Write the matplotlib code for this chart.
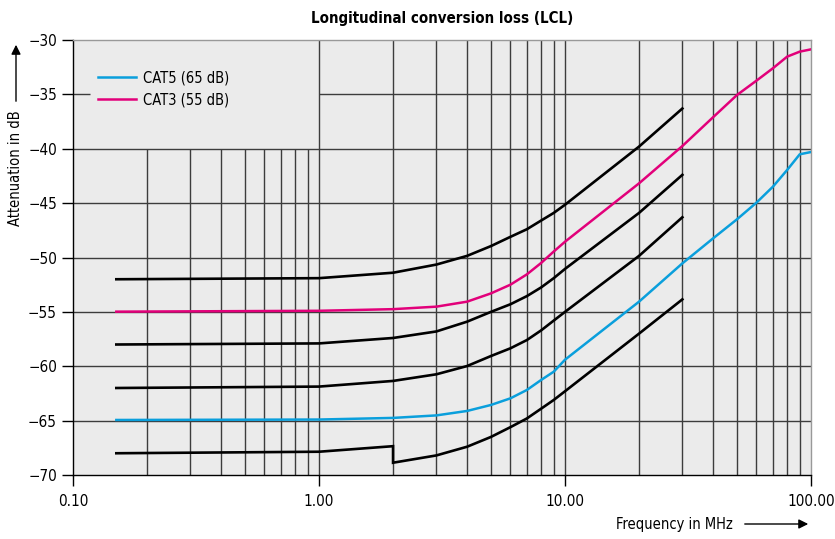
import matplotlib
matplotlib.use('Agg')
import matplotlib.pyplot as plt
from matplotlib.ticker import FixedLocator, NullLocator

plt.rcParams['font.family'] = ['DejaVu Sans']
plt.rcParams['font.stretch'] = 'condensed'

# --- data ---
freq_low = [0.15, 1, 2, 3, 4, 5, 6, 7, 8, 9, 10, 20, 30]
black_1 = [-52.0, -51.9, -51.4, -50.65, -49.85, -48.95, -48.1, -47.4, -46.6, -45.9, -45.15, -39.8, -36.3]
black_2 = [-58.0, -57.9, -57.4, -56.8, -55.9, -55.0, -54.3, -53.55, -52.75, -51.9, -51.05, -45.9, -42.4]
black_3 = [-62.0, -61.87, -61.35, -60.74, -59.98, -59.06, -58.35, -57.59, -56.7, -55.8, -55.0, -49.85, -46.3]

freq_step = [0.15, 1, 2, 2, 3, 4, 5, 6, 7, 8, 9, 10, 20, 30]
black_4 = [-68.0, -67.86, -67.35, -68.87, -68.2, -67.4, -66.5, -65.6, -64.8, -63.9, -63.1, -62.3, -57.0, -53.85]

freq_full = [0.15, 1, 2, 3, 4, 5, 6, 7, 8, 9, 10, 20, 30, 40, 50, 60, 70, 80, 90, 100]
cat3 = [-54.98, -54.9, -54.75, -54.52, -54.06, -53.3, -52.5, -51.55, -50.5, -49.45, -48.55,
        -43.18, -39.75, -37.1, -35.06, -33.74, -32.6, -31.53, -31.07, -30.86]
cat5 = [-64.94, -64.9, -64.75, -64.52, -64.11, -63.56, -62.95, -62.18, -61.26, -60.5, -59.4,
        -54.06, -50.54, -48.24, -46.49, -44.96, -43.49, -41.95, -40.51, -40.3]

x_ticks = [0.1, 1, 10, 100]
x_labels = ['0.10', '1.00', '10.00', '100.00']
y_ticks = [-70, -65, -60, -55, -50, -45, -40, -35, -30]

blue = '#0a9fdc'
magenta = '#e2007a'
grid_c = '#3c3c3c'

fig = plt.figure(figsize=(8.35, 5.39), dpi=100)
ax = fig.add_axes([73 / 835, 1 - 475 / 539, 738 / 835, 435 / 539])
ax.set_facecolor('#ebebeb')
ax.set_xscale('log')
ax.set_xlim(0.1, 100)
ax.set_ylim(-70, -30)

# grid: minor lines below 1 MHz stop at -40 (legend area), the rest go full height
for dec in [0.1, 1, 10]:
    for m in range(1, 10):
        f = dec * m
        if f <= 0.1:
            continue
        if f < 1:
            ax.vlines(f, -70, -40, color=grid_c, lw=1, zorder=1)
        else:
            ax.vlines(f, -70, -30, color=grid_c, lw=1, zorder=1)
for y in [-65, -60, -55, -50, -45, -40]:
    ax.hlines(y, 0.1, 100, color=grid_c, lw=1, zorder=1)
ax.hlines(-35, 1, 100, color=grid_c, lw=1, zorder=1)
ax.hlines(-35, 0.1, 0.117, color=grid_c, lw=1, zorder=1)

# curves
for yy in [black_1, black_2, black_3]:
    ax.plot(freq_low, yy, color='black', lw=1.9, zorder=3)
ax.plot(freq_step, black_4, color='black', lw=1.9, zorder=3, solid_joinstyle='miter')
ax.plot(freq_full, cat3, color=magenta, lw=1.8, zorder=4, label='CAT3 (55 dB)')
ax.plot(freq_full, cat5, color=blue, lw=1.8, zorder=4, label='CAT5 (65 dB)')

h, l = ax.get_legend_handles_labels()
ax.legend([h[1], h[0]], [l[1], l[0]], loc='upper left', bbox_to_anchor=(0.016, 0.96),
          frameon=False, handlelength=2.6, fontsize=10.5, labelspacing=0.45,
          handletextpad=0.5)

ax.xaxis.set_major_locator(FixedLocator(x_ticks))
ax.xaxis.set_minor_locator(NullLocator())
ax.set_xticklabels(x_labels)
ax.set_yticks(y_ticks)
ax.set_yticklabels([str(v).replace('-', '\u2212') for v in y_ticks])
ax.tick_params(axis='both', length=8, width=1, color='black', labelsize=11)
ax.tick_params(axis='x', pad=6)

for side in ['left', 'bottom']:
    ax.spines[side].set_color('black')
    ax.spines[side].set_linewidth(1)
for side in ['top', 'right']:
    ax.spines[side].set_color('#999999')
    ax.spines[side].set_linewidth(1)

fig.text(442 / 835, 1 - 18 / 539, 'Longitudinal conversion loss (LCL)', ha='center', va='center',
         fontsize=10.8, fontweight='bold')

# axis titles with arrows
fig.text(16 / 835, 1 - 168 / 539, 'Attenuation in dB', rotation=90, ha='center', va='center',
         fontsize=10.5)
ax.annotate('', xy=(16 / 835, 1 - 42 / 539), xytext=(16 / 835, 1 - 104 / 539),
            xycoords='figure fraction', textcoords='figure fraction',
            arrowprops=dict(arrowstyle='-|>', color='black', lw=1, mutation_scale=14))
fig.text(733 / 835, 1 - 524 / 539, 'Frequency in MHz', ha='right', va='center', fontsize=10.5)
ax.annotate('', xy=(811 / 835, 1 - 524 / 539), xytext=(742 / 835, 1 - 524 / 539),
            xycoords='figure fraction', textcoords='figure fraction',
            arrowprops=dict(arrowstyle='-|>', color='black', lw=1, mutation_scale=14))

fig.savefig('out.png', dpi=100)
